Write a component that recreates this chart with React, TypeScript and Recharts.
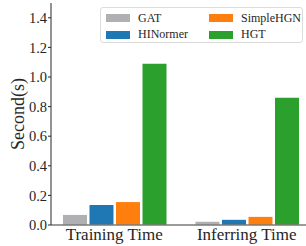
import React from 'react';
import { BarChart, Bar, XAxis, YAxis, Legend } from 'recharts';

const categories = ['Training Time', 'Inferring Time'];
const gatValues = [0.068, 0.022];
const hinormerValues = [0.135, 0.035];
const simpleHgnValues = [0.155, 0.055];
const hgtValues = [1.09, 0.86];
const yTicks = [0, 0.2, 0.4, 0.6, 0.8, 1.0, 1.2, 1.4];

const seriesNames = ['GAT', 'HINormer', 'SimpleHGN', 'HGT'];
const seriesKeys = ['gat', 'hinormer', 'simplehgn', 'hgt'];
const seriesColors = ['#b0b0b2', '#1f77b4', '#ff7f0e', '#2ca02c'];

const data = categories.map((c, i) => ({
  name: c,
  gat: gatValues[i],
  hinormer: hinormerValues[i],
  simplehgn: simpleHgnValues[i],
  hgt: hgtValues[i],
}));

const FONT = '"Liberation Serif", "DejaVu Serif", serif';

const LegendContent = () => {
  // two columns: [GAT, HINormer], [SimpleHGN, HGT]
  const cols = [
    [0, 1],
    [2, 3],
  ];
  const colLeft = [5, 108];
  return (
    <div
      style={{
        position: 'relative',
        width: 203,
        height: 36,
        border: '1px solid #dcdcdc',
        borderRadius: 3,
        background: 'rgba(255,255,255,0.85)',
        boxSizing: 'border-box',
        fontFamily: FONT,
        fontSize: 12,
        color: '#262626',
      }}
    >
      {cols.map((col, ci) =>
        col.map((si, ri) => (
          <div
            key={si}
            style={{
              position: 'absolute',
              left: colLeft[ci],
              top: 2 + ri * 16.5,
              height: 16,
              display: 'flex',
              alignItems: 'center',
              whiteSpace: 'nowrap',
            }}
          >
            <span
              style={{
                display: 'inline-block',
                width: 24,
                height: 8,
                background: seriesColors[si],
                marginRight: 8,
              }}
            />
            <span>{seriesNames[si]}</span>
          </div>
        ))
      )}
    </div>
  );
};

const YLabel = (props: any) => {
  const vb = props.viewBox || {};
  const cy = (vb.y || 0) + (vb.height || 0) / 2;
  return (
    <text
      x={18}
      y={cy}
      transform={`rotate(-90, 18, ${cy})`}
      textAnchor="middle"
      dominantBaseline="central"
      fontFamily={FONT}
      fontSize={18}
      fill="#262626"
    >
      Second(s)
    </text>
  );
};

export default function App() {
  return (
    <div style={{ position: 'absolute', left: 0, top: 0, width: 306, height: 246, overflow: 'hidden', background: '#fff' }}>
      <BarChart
        width={306}
        height={246}
        data={data}
        margin={{ top: 3, right: 0, bottom: 0, left: 0 }}
        barSize={24}
        barGap={2.5}
      >
        <XAxis
          dataKey="name"
          height={21}
          padding={{ left: -3, right: -7 }}
          tickLine={false}
          tickSize={0}
          tickMargin={3}
          axisLine={{ stroke: '#7a7a7a', strokeWidth: 1.6 }}
          tick={{ fontFamily: FONT, fontSize: 17, fill: '#262626' }}
          interval={0}
        />
        <XAxis
          xAxisId="top"
          orientation="top"
          dataKey="name"
          height={0}
          tick={false}
          tickLine={false}
          axisLine={{ stroke: '#6a6a6a', strokeWidth: 1.2 }}
        />
        <YAxis
          width={51}
          domain={[0, 1.5]}
          ticks={yTicks}
          allowDataOverflow
          tickFormatter={(v: number) => v.toFixed(1)}
          tickSize={3}
          tickMargin={1}
          tickLine={{ stroke: '#262626' }}
          axisLine={{ stroke: '#262626', strokeWidth: 1 }}
          tick={{ fontFamily: FONT, fontSize: 14.5, fill: '#262626' }}
          label={<YLabel />}
        />
        <Legend
          layout="horizontal"
          verticalAlign="middle"
          align="center"
          content={<LegendContent />}
          wrapperStyle={{ position: 'absolute', left: 100, top: 7, width: 203, height: 36 }}
        />
        {seriesKeys.map((k, i) => (
          <Bar key={k} dataKey={k} name={seriesNames[i]} fill={seriesColors[i]} isAnimationActive={false} />
        ))}
      </BarChart>
    </div>
  );
}
